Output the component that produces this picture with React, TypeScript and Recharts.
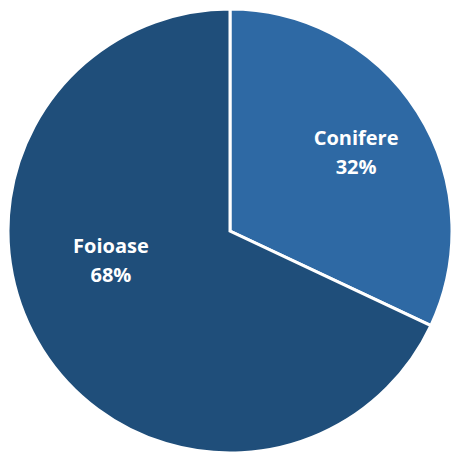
import React from "react";
import { PieChart, Pie, Cell } from "recharts";

const categories = ["Conifere", "Foioase"];
const shares = [32, 68];
const colors = ["#2e69a4", "#1f4e7a"];

const data = categories.map((name, i) => ({ name, value: shares[i] }));

// label placement tweaks (radius fraction, angle shift in degrees)
const labelPlacement = [
  { f: 0.675, shift: 0.3 },
  { f: 0.55, shift: -19.6 },
];

const RAD = Math.PI / 180;

const renderLabel = (props: any) => {
  const { cx, cy, midAngle, outerRadius, index, name, value } = props;
  const p = labelPlacement[index];
  const a = (midAngle + p.shift) * RAD;
  const r = outerRadius * p.f;
  const x = cx + r * Math.cos(a);
  const y = cy - r * Math.sin(a);
  return (
    <text
      x={x}
      y={y}
      fill="#ffffff"
      textAnchor="middle"
      fontFamily="'Open Sans', sans-serif"
      fontWeight={700}
      fontSize={20}
    >
      <tspan x={x} dy={-5}>{name}</tspan>
      <tspan x={x} dy={29}>{`${value}%`}</tspan>
    </text>
  );
};

export default function App() {
  return (
    <div style={{ position: "absolute", left: 0, top: 0, width: 451, height: 453, background: "#fff" }}>
      <PieChart width={451} height={453} margin={{ top: 0, right: 0, bottom: 0, left: 0 }}>
        <Pie
          data={data}
          dataKey="value"
          nameKey="name"
          cx={230}
          cy={231}
          outerRadius={222}
          startAngle={90}
          endAngle={-270}
          stroke="#ffffff"
          strokeWidth={3}
          labelLine={false}
          label={renderLabel}
          isAnimationActive={false}
        >
          {data.map((d, i) => (
            <Cell key={d.name} fill={colors[i]} />
          ))}
        </Pie>
      </PieChart>
    </div>
  );
}
